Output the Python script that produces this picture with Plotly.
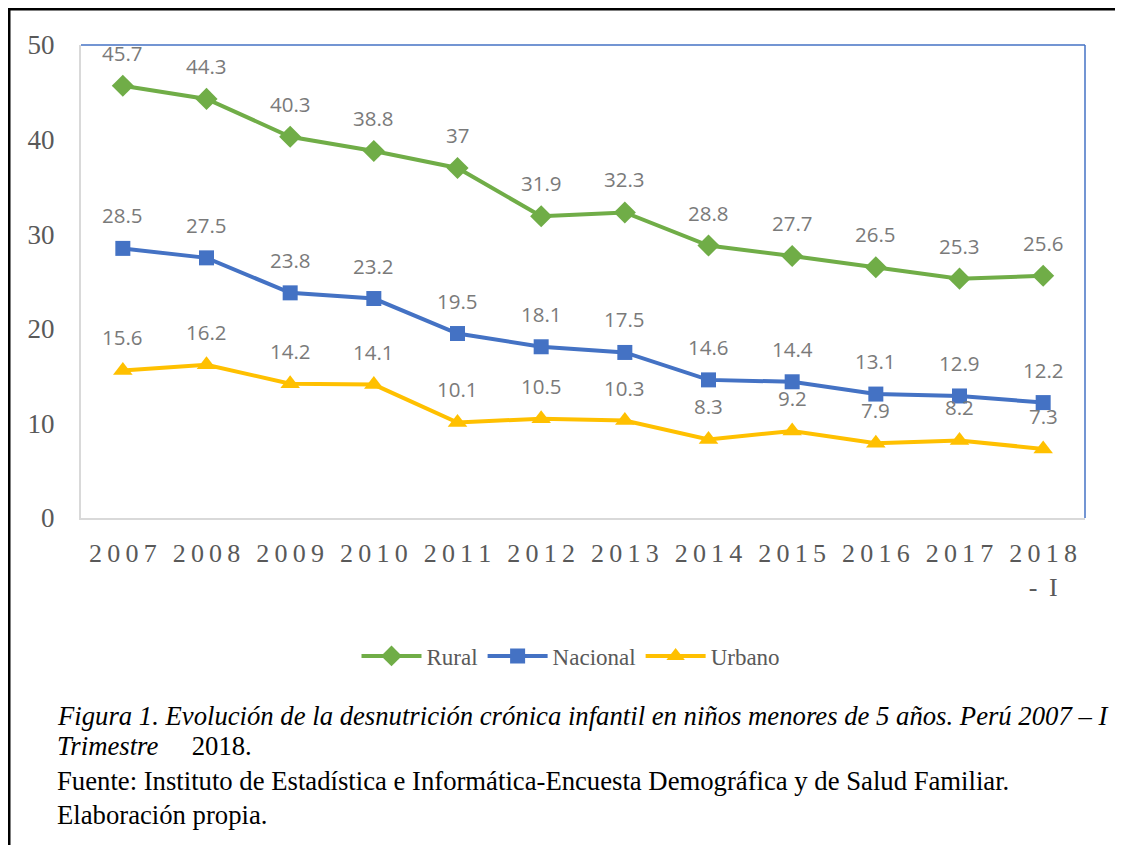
import plotly.graph_objects as go

years = ["2007", "2008", "2009", "2010", "2011", "2012", "2013", "2014", "2015", "2016", "2017", "2018 - I"]
tick_labels = ["2\u20090\u20090\u20097", "2\u20090\u20090\u20098", "2\u20090\u20090\u20099", "2\u20090\u20091\u20090",
               "2\u20090\u20091\u20091", "2\u20090\u20091\u20092", "2\u20090\u20091\u20093", "2\u20090\u20091\u20094",
               "2\u20090\u20091\u20095", "2\u20090\u20091\u20096", "2\u20090\u20091\u20097", "2\u20090\u20091\u20098<br>-\u2009 I"]
rural = [45.7, 44.3, 40.3, 38.8, 37, 31.9, 32.3, 28.8, 27.7, 26.5, 25.3, 25.6]
nacional = [28.5, 27.5, 23.8, 23.2, 19.5, 18.1, 17.5, 14.6, 14.4, 13.1, 12.9, 12.2]
urbano = [15.6, 16.2, 14.2, 14.1, 10.1, 10.5, 10.3, 8.3, 9.2, 7.9, 8.2, 7.3]

OFF = 8  # page body margin
W, H = 1123 - OFF, 845 - OFF
# plot area in page pixels
L, R, T, B = 81, 1085, 45, 518

def px(xp):
    return (xp - L) / (R - L)

def py(yp):
    return (B - yp) / (B - T)

series = [
    ("Rural", rural, "#70AD47", "diamond", 17),
    ("Nacional", nacional, "#4472C4", "square", 15),
    ("Urbano", urbano, "#FFC000", "triangle-up", 17),
]

fig = go.Figure()
for name, vals, col, sym, sz in series:
    fig.add_trace(go.Scatter(
        x=years, y=vals, name=name, mode="lines+markers",
        line=dict(color=col, width=4),
        marker=dict(symbol=sym, size=sz, color=col),
    ))

annotations = []
for name, vals, col, sym, sz in series:
    for i, yv in enumerate(vals):
        annotations.append(dict(
            x=i, y=yv, xref="x", yref="y", text=f"{yv:g}", showarrow=False,
            yshift=33, font=dict(family="Open Sans, Lato, sans-serif", size=20.5, color="#7a7a7a"),
        ))

cap_font = dict(family="Liberation Serif, Times New Roman, serif", size=26.7, color="#000000")
caption = [
    (716, "<i>Figura 1. Evolución de la desnutrición crónica infantil en niños menores de 5 años. Perú 2007 – I</i>"),
    (746, "<i>Trimestre</i>\u00a0\u00a0\u00a0\u00a0 2018."),
    (781, "Fuente: Instituto de Estadística e Informática-Encuesta Demográfica y de Salud Familiar."),
    (815, "Elaboración propia."),
]
for yy, txt in caption:
    annotations.append(dict(
        x=px(55), y=py(yy), xref="paper", yref="paper", text=txt, showarrow=False,
        xanchor="left", yanchor="middle", font=cap_font, align="left",
    ))

shapes = [
    dict(type="line", xref="paper", yref="paper", x0=0, x1=1, y0=1, y1=1, line=dict(color="#4472C4", width=1.5)),
    dict(type="line", xref="paper", yref="paper", x0=1, x1=1, y0=0, y1=1, line=dict(color="#4472C4", width=1.5)),
    dict(type="line", xref="paper", yref="paper", x0=px(9), x1=px(9), y0=py(860), y1=py(9), line=dict(color="#000000", width=3)),
    dict(type="line", xref="paper", yref="paper", x0=px(8), x1=px(1140), y0=py(9), y1=py(9), line=dict(color="#000000", width=3)),
]

fig.update_layout(
    width=W, height=H,
    margin=dict(l=L - OFF, r=1123 - R, t=T - OFF, b=845 - B, pad=0),
    paper_bgcolor="white", plot_bgcolor="white",
    showlegend=True,
    legend=dict(orientation="h", x=px(571), y=py(656), xanchor="center", yanchor="middle",
                font=dict(family="Liberation Serif, Times New Roman, serif", size=23, color="#595959"),
                itemwidth=60, tracegroupgap=0),
    annotations=annotations,
    shapes=shapes,
)
fig.update_xaxes(
    type="category", tickmode="array", tickvals=years, ticktext=tick_labels,
    showline=True, linecolor="#D9D9D9", linewidth=2, showgrid=False, ticks="",
    tickfont=dict(family="Liberation Serif, Times New Roman, serif", size=26, color="#595959"),
    ticklabelstandoff=11, range=[-0.5, 11.5], tickangle=0,
)
fig.update_yaxes(
    range=[0, 50], tickvals=[0, 10, 20, 30, 40, 50],
    showline=True, linecolor="#D9D9D9", linewidth=2, showgrid=False, ticks="", zeroline=False,
    tickfont=dict(family="Liberation Serif, Times New Roman, serif", size=27, color="#595959"),
    ticklabelstandoff=19,
)

fig.write_html("out.html")
